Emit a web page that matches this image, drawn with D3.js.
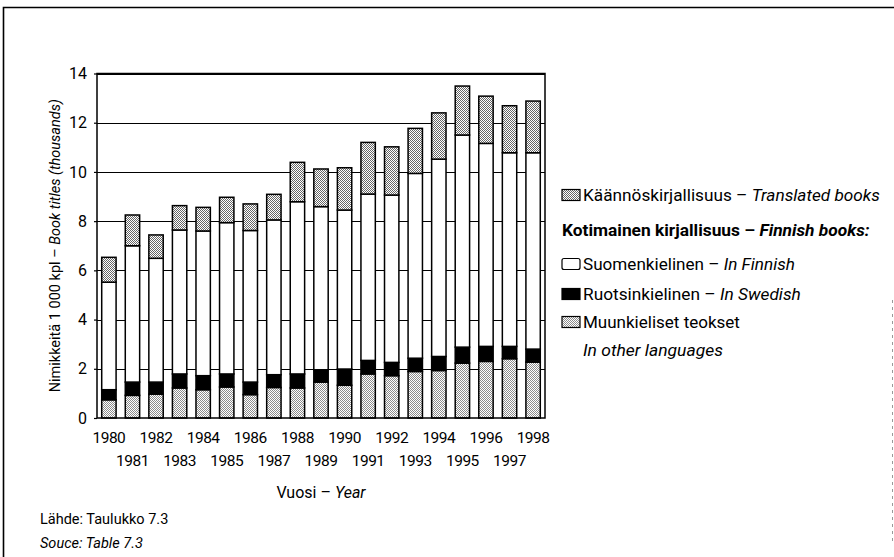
<!DOCTYPE html>
<html>
<head>
<meta charset="utf-8">
<script src="https://cdn.jsdelivr.net/npm/d3@7"></script>
<style>
  html, body { margin: 0; padding: 0; background: #fff; }
  svg { display: block; }
  text { font-family: Roboto, "DejaVu Sans Condensed", "Liberation Sans", sans-serif; fill: #000; }
</style>
</head>
<body>
<svg id="chart" width="894" height="557"></svg>
<script>
// Book titles published in Finland, thousands
const years = [1980,1981,1982,1983,1984,1985,1986,1987,1988,1989,1990,1991,1992,1993,1994,1995,1996,1997,1998];
const otherLanguages = [0.74,0.92,0.97,1.22,1.15,1.26,0.95,1.24,1.22,1.46,1.33,1.79,1.72,1.89,1.93,2.23,2.30,2.41,2.27];
const inSwedish      = [0.41,0.54,0.49,0.57,0.57,0.53,0.51,0.52,0.57,0.50,0.66,0.55,0.54,0.54,0.57,0.65,0.61,0.50,0.53];
const inFinnish      = [4.37,5.54,5.03,5.85,5.88,6.15,6.16,6.29,7.00,6.63,6.46,6.76,6.80,7.51,8.02,8.62,8.25,7.87,7.98];
const translated     = [1.01,1.25,0.95,0.99,0.96,1.03,1.08,1.04,1.60,1.53,1.72,2.10,1.96,1.83,1.88,1.99,1.92,1.91,2.10];
const yTicks = [0,2,4,6,8,10,12,14];

const svg = d3.select("#chart");
const defs = svg.append("defs");

// stippled fills
function stipple(id, ink) {
  const p = defs.append("pattern").attr("id", id)
    .attr("patternUnits", "userSpaceOnUse").attr("width", 2).attr("height", 2);
  p.append("rect").attr("width", 2).attr("height", 2).attr("fill", "#fff");
  p.append("rect").attr("x", 0).attr("y", 0).attr("width", 1).attr("height", 1).attr("fill", ink);
  p.append("rect").attr("x", 1).attr("y", 1).attr("width", 1).attr("height", 1).attr("fill", ink);
}
stipple("dotsTranslated", "#666");
stipple("dotsOther", "#8c8c8c");

const seriesKeys = ["other", "swedish", "finnish", "translated"];
const fills = { other: "url(#dotsOther)", swedish: "#000", finnish: "#fff", translated: "url(#dotsTranslated)" };

const rows = years.map((y, i) => ({
  year: y,
  other: otherLanguages[i],
  swedish: inSwedish[i],
  finnish: inFinnish[i],
  translated: translated[i]
}));
const stacked = d3.stack().keys(seriesKeys)(rows);

const plot = { left: 97, right: 545, top: 73.5, bottom: 418 };
const x = d3.scaleBand().domain(years).range([plot.left, plot.right]).paddingInner(0.39).paddingOuter(0.2);
const y = d3.scaleLinear().domain([0, 14]).range([plot.bottom, plot.top]);

// squeeze a left-anchored text horizontally so it spans the given width
function fitWidth(t, width) {
  const node = t.node();
  const w = node.getComputedTextLength();
  const x0 = +t.attr("x"), y0 = +t.attr("y");
  const k = width / w;
  t.attr("x", 0).attr("y", 0).attr("transform", `translate(${x0},${y0}) scale(${k},1)`);
  return t;
}

// outer page frame
svg.append("path").attr("d", "M3.5,557 V7.5 H894").attr("fill", "none").attr("stroke", "#000").attr("stroke-width", 1.6);
svg.append("line").attr("x1", 892.5).attr("x2", 892.5).attr("y1", 300).attr("y2", 545)
  .attr("stroke", "#999").attr("stroke-width", 1).attr("stroke-dasharray", "3,4");

// gridlines
svg.append("g").selectAll("line").data(yTicks.filter(t => t > 0)).join("line")
  .attr("x1", plot.left).attr("x2", plot.right)
  .attr("y1", d => Math.round(y(d)) + 0.5).attr("y2", d => Math.round(y(d)) + 0.5)
  .attr("stroke", "#000").attr("stroke-width", 1.2);

// stacked bars
svg.append("g").selectAll("g").data(stacked).join("g")
  .attr("fill", d => fills[d.key])
  .selectAll("rect").data(d => d).join("rect")
  .attr("x", d => x(d.data.year))
  .attr("width", x.bandwidth())
  .attr("y", d => y(d[1]))
  .attr("height", d => y(d[0]) - y(d[1]))
  .attr("stroke", "#000").attr("stroke-width", 1.5);

// plot frame
svg.append("rect").attr("x", plot.left).attr("y", plot.top)
  .attr("width", plot.right - plot.left).attr("height", plot.bottom - plot.top)
  .attr("fill", "none").attr("stroke", "#000").attr("stroke-width", 1.5);

// y axis
const yAxis = svg.append("g").attr("transform", `translate(${plot.left},0)`)
  .call(d3.axisLeft(y).tickValues(yTicks).tickSize(3).tickPadding(7).tickFormat(d3.format("d")));
yAxis.select(".domain").remove();
yAxis.selectAll(".tick line").attr("stroke", "#000").attr("stroke-width", 1.2);
yAxis.selectAll("text").attr("font-size", 16).attr("font-family", null);

// x labels: even years on first row, odd years on second
const xLab = svg.append("g");
xLab.selectAll("text").data(years).join("text")
  .attr("x", d => x(d) + x.bandwidth() / 2)
  .attr("y", (d, i) => i % 2 === 0 ? 443 : 466)
  .attr("text-anchor", "middle").attr("font-size", 15.5)
  .attr("letter-spacing", -0.5)
  .text(d => d);

// axis titles
const xt = svg.append("text").attr("x", (plot.left + plot.right) / 2).attr("y", 498)
  .attr("text-anchor", "middle").attr("font-size", 16);
xt.append("tspan").text("Vuosi – ");
xt.append("tspan").attr("font-style", "italic").text("Year");

const yt = svg.append("text").attr("transform", `translate(60,${(plot.top + plot.bottom) / 2}) rotate(-90)`)
  .attr("text-anchor", "middle").attr("font-size", 14.5);
yt.append("tspan").text("Nimikkeitä 1 000 kpl – ");
yt.append("tspan").attr("font-style", "italic").text("Book titles (thousands)");

// legend
const lg = svg.append("g");
function swatch(yc, fill, rx) {
  lg.append("rect").attr("x", 562).attr("y", yc - 5.5).attr("width", 18).attr("height", 11)
    .attr("rx", rx || 0).attr("fill", fill).attr("stroke", "#000").attr("stroke-width", 1.2);
}
function entry(yb, plain, italic, width) {
  const t = lg.append("text").attr("x", 583).attr("y", yb).attr("font-size", 17);
  if (plain) t.append("tspan").text(plain);
  if (italic) t.append("tspan").attr("font-style", "italic").text(italic);
  fitWidth(t, width);
}
swatch(195, "url(#dotsTranslated)");
entry(201, "Käännöskirjallisuus – ", "Translated books", 297);
const head = lg.append("text").attr("x", 562).attr("y", 236).attr("font-size", 17).attr("font-weight", "bold");
head.append("tspan").text("Kotimainen kirjallisuus – ");
head.append("tspan").attr("font-style", "italic").text("Finnish books:");
fitWidth(head, 308);
swatch(264, "#fff", 2);
entry(270, "Suomenkielinen – ", "In Finnish", 212);
swatch(294, "#000");
entry(300, "Ruotsinkielinen – ", "In Swedish", 218);
swatch(322, "url(#dotsOther)");
entry(328, "Muunkieliset teokset", null, 157);
entry(356, null, "In other languages", 140);

// source note
svg.append("text").attr("x", 40).attr("y", 524).attr("font-size", 14.5).text("Lähde: Taulukko 7.3");
svg.append("text").attr("x", 40).attr("y", 548).attr("font-size", 14.5).attr("font-style", "italic").text("Souce: Table 7.3");
</script>
</body>
</html>
